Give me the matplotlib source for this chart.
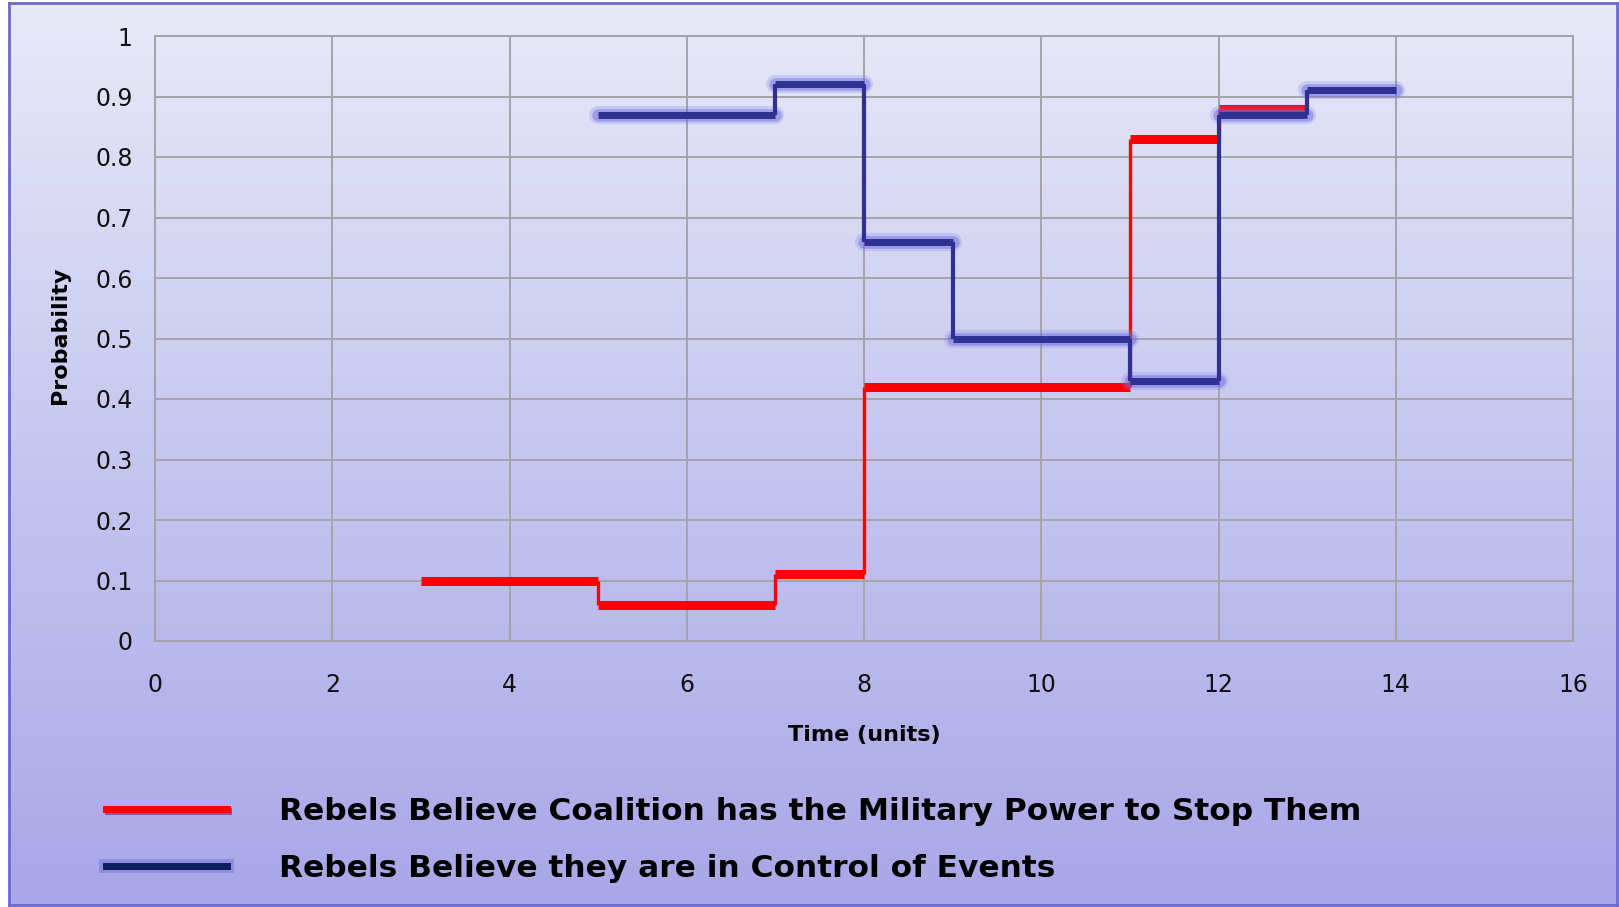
import numpy as np
import matplotlib
matplotlib.use("Agg")
import matplotlib.pyplot as plt
import matplotlib.patheffects as pe
from matplotlib.colors import LinearSegmentedColormap
from matplotlib.lines import Line2D

plt.rcParams["font.family"] = ["DejaVu Sans"]

# step series: value holds from x[i] to x[i+1]
red_x = [3, 5, 7, 8, 11, 12, 13]
red_y = [0.10, 0.06, 0.11, 0.42, 0.83, 0.88]
blue_x = [5, 7, 8, 9, 11, 12, 13, 14]
blue_y = [0.87, 0.92, 0.66, 0.50, 0.43, 0.87, 0.91]

red_label = "Rebels Believe Coalition has the Military Power to Stop Them"
blue_label = "Rebels Believe they are in Control of Events"

x_ticks = list(range(0, 17, 2))
y_ticks = [round(v * 0.1, 1) for v in range(11)]
y_tick_labels = ["0"] + [f"{v:.1f}" for v in y_ticks[1:-1]] + ["1"]

W, H = 1619, 907
fig = plt.figure(figsize=(W / 100, H / 100), dpi=100, facecolor="white")

# gradient background with purple frame
bg = fig.add_axes([9 / W, 2 / H, (1617 - 9) / W, (905 - 3) / H], zorder=-10)
cmap = LinearSegmentedColormap.from_list("bg", ["#aaa6e8", "#c6c6f0", "#e8e9f8"])
grad = np.linspace(0, 1, 256).reshape(-1, 1)
bg.imshow(grad, aspect="auto", cmap=cmap, origin="lower", extent=[0, 1, 0, 1])
bg.set_xlim(0, 1)
bg.set_ylim(0, 1)
bg.set_xticks([])
bg.set_yticks([])
for s in bg.spines.values():
    s.set_color("#6a6ad0")
    s.set_linewidth(2)

ax = fig.add_axes([155 / W, 1 - 641 / H, (1573 - 155) / W, (641 - 36) / H])
ax.set_facecolor("none")
ax.set_xlim(0, 16)
ax.set_ylim(0, 1)
ax.set_xticks(x_ticks)
ax.set_yticks(y_ticks)
ax.set_yticklabels(y_tick_labels)
ax.tick_params(length=0, labelsize=17, colors="#111111")
ax.tick_params(axis="x", pad=23)
ax.tick_params(axis="y", pad=16)
ax.grid(True, color="#a4a4a8", linewidth=1.4)
ax.set_axisbelow(True)
for s in ax.spines.values():
    s.set_color("#a4a4a8")
    s.set_linewidth(1.4)

ax.set_xlabel("Time (units)", fontsize=16, fontweight="bold")
ax.set_ylabel("Probability", fontsize=16, fontweight="bold")
ax.xaxis.set_label_coords(0.5, -0.139)
ax.yaxis.set_label_coords(-0.06, 0.506)

# red series
ax.hlines(red_y, red_x[:-1], red_x[1:], colors="red", linewidth=6.5, zorder=3)
ax.vlines(red_x[1:-1], red_y[:-1], red_y[1:], colors="red", linewidth=2.4, zorder=3)

# blue series with soft glow
glow = [
    pe.Stroke(linewidth=13, foreground="#8080e8", alpha=0.25, capstyle="round"),
    pe.Stroke(linewidth=9, foreground="#6a6ae0", alpha=0.45, capstyle="round"),
    pe.Normal(),
]
hl = ax.hlines(blue_y, blue_x[:-1], blue_x[1:], colors="#2e3192", linewidth=5, zorder=4)
hl.set_path_effects(glow)
ax.vlines(blue_x[1:-1], blue_y[:-1], blue_y[1:], colors="#2e3192", linewidth=3, zorder=4)

handles = [
    Line2D([], [], color="red", linewidth=5,
           path_effects=[pe.SimpleLineShadow(offset=(1, -1.5), alpha=0.4), pe.Normal()]),
    Line2D([], [], color="#0b1f5c", linewidth=5,
           path_effects=[pe.Stroke(linewidth=10, foreground="#6a6ad8", alpha=0.45), pe.Normal()]),
]
fig.legend(handles, [red_label, blue_label], loc="upper left",
           bbox_to_anchor=(78 / W, 1 - 769 / H), frameon=False,
           prop={"size": 22.5, "weight": "bold"}, handlelength=3.87,
           handletextpad=1.65, labelspacing=0.9)

fig.savefig("out.png", dpi=100, facecolor="white")
